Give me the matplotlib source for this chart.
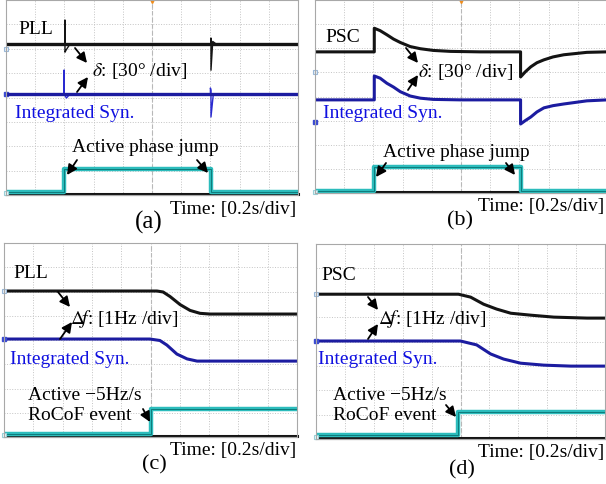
import matplotlib
matplotlib.use("Agg")
import matplotlib.pyplot as plt
from matplotlib.patches import FancyArrowPatch

plt.rcParams['font.family'] = ['Liberation Serif', 'DejaVu Serif']
plt.rcParams['mathtext.fontset'] = 'stix'

W, H = 606, 484

# traces in oscilloscope divisions (x: 0..10 div, y: 0..8 div)
# (a) phase jump, PLL: flat level plus thin glitches
pll_a_level = 6.19
pll_a_t = [0, 2.02, 2.02, 2.02, 2.06, 2.19, 7.02, 7.02, 7.02, 7.08, 7.2, 10]
pll_a_v = [6.19, 6.19, 7.17, 5.86, 5.95, 6.19, 6.19, 6.43, 5.12, 6.3, 6.19, 6.19]
syn_a_level = 4.14
syn_a_t = [0, 1.99, 1.99, 1.99, 2.07, 2.19, 7.0, 7.0, 7.02, 7.02, 7.1, 10]
syn_a_v = [4.14, 4.14, 5.12, 4.14, 3.98, 4.14, 4.14, 4.39, 4.3, 3.2, 4.14, 4.14]
evt_a_t = [0, 1.99, 1.99, 7.02, 7.02, 10]
evt_a_v = [0.12, 0.12, 1.07, 1.07, 0.12, 0.12]

# (b) phase jump, PSC
psc_b_t = [0, 2.03, 2.03, 2.23, 2.46, 2.69, 2.92, 3.26, 3.61, 4.05, 4.64, 5.67,
           7.04, 7.04, 7.2, 7.39, 7.6, 7.84, 8.15, 8.52, 9.31, 10]
psc_b_v = [5.85, 5.85, 6.83, 6.73, 6.56, 6.38, 6.24, 6.07, 5.98, 5.91, 5.87, 5.85,
           5.85, 4.81, 5.02, 5.23, 5.40, 5.52, 5.64, 5.73, 5.83, 5.85]
syn_b_t = [0, 2.03, 2.03, 2.23, 2.46, 2.69, 2.92, 3.26, 3.61, 4.05, 5.0,
           7.04, 7.04, 7.2, 7.39, 7.6, 7.84, 8.15, 8.52, 9.31, 10]
syn_b_v = [3.86, 3.86, 4.85, 4.76, 4.55, 4.39, 4.20, 4.02, 3.93, 3.88, 3.86,
           3.86, 2.86, 3.0, 3.15, 3.36, 3.53, 3.62, 3.69, 3.82, 3.86]
evt_b_t = [0, 2.03, 2.03, 7.04, 7.04, 10]
evt_b_v = [0.08, 0.08, 1.08, 1.08, 0.08, 0.08]

# (c) RoCoF, PLL
pll_c_t = [0, 5.22, 5.43, 5.67, 6.01, 6.35, 6.69, 7.03, 10]
pll_c_v = [6.02, 6.02, 5.98, 5.79, 5.46, 5.22, 5.10, 5.07, 5.07]
syn_c_t = [0, 4.98, 5.32, 5.56, 5.90, 6.25, 6.59, 10]
syn_c_v = [4.04, 4.04, 3.98, 3.79, 3.42, 3.22, 3.13, 3.13]
evt_c_t = [0, 5.02, 5.02, 10]
evt_c_v = [0.12, 0.12, 1.15, 1.15]

# (d) RoCoF, PSC
psc_d_t = [0, 4.93, 5.35, 5.80, 6.25, 6.74, 7.43, 8.23, 9.38, 10]
psc_d_v = [5.94, 5.94, 5.82, 5.53, 5.33, 5.16, 5.08, 5.00, 4.96, 4.96]
syn_d_t = [0, 5.0, 5.56, 6.04, 6.49, 7.08, 7.88, 8.82, 10]
syn_d_v = [4.02, 4.02, 3.86, 3.49, 3.28, 3.11, 3.03, 2.99, 2.99]
evt_d_t = [0, 4.93, 4.93, 10]
evt_d_v = [0.16, 0.16, 1.11, 1.11]

ground_level = 0.03

# channel reference markers on the left edge: (black ch, blue ch, cyan ch)
marks_a = [5.98, 4.14, 0.1]
marks_b = [5.0, 2.95, 0.05]
marks_c = [6.02, 4.04, 0.1]
marks_d = [5.94, 4.02, 0.1]

BLACK = '#141414'
NAVY = '#1c1ca0'
TEAL = '#2cbcbc'
TEXTBLUE = '#1010e0'

fig = plt.figure(figsize=(W / 100, H / 100), dpi=100)


def make_panel(l, t, r, b):
    ax = fig.add_axes([l / W, 1 - b / H, (r - l) / W, (b - t) / H])
    ax.set_xlim(0, 10)
    ax.set_ylim(0, 8)
    ax.set_xticks(range(11))
    ax.set_yticks(range(9))
    ax.grid(True, linestyle=':', color='#c4c4c4', lw=0.7)
    ax.axvline(5, color='#b8b8b8', lw=0.8, ls=(0, (4, 2)))
    ax.tick_params(length=0, labelbottom=False, labelleft=False)
    for s in ax.spines.values():
        s.set_color('#a8a8a8')
        s.set_linewidth(0.8)
    return ax


def draw(ax, t1, v1, t2, v2, t3, v3, marks, thin=False):
    ax.plot([0, 10], [ground_level, ground_level], color=BLACK, lw=2.2, clip_on=False)
    ax.plot(t3, v3, color=TEAL, lw=3.2)
    ax.plot(t3, v3, color='#0e7c7c', lw=0.7)
    lw = 1.0 if thin else 2.2
    ax.plot(t1, v1, color=BLACK, lw=lw)
    ax.plot(t2, v2, color='#2a2ad0' if thin else NAVY, lw=lw)
    ax.plot([0], [marks[0]], marker='s', ms=3.5, mfc='#e8f0f8', mec='#9ab8d8', mew=0.8, clip_on=False)
    ax.plot([0], [marks[1]], marker='s', ms=3.5, mfc='#3a4ad0', mec='#3a4ad0', clip_on=False)
    ax.plot([0], [marks[2]], marker='s', ms=3.5, mfc='#e8f8f8', mec='#9ad0d8', mew=0.8, clip_on=False)


ax_a = make_panel(6, 0, 298, 195)
draw(ax_a, pll_a_t, pll_a_v, syn_a_t, syn_a_v, evt_a_t, evt_a_v, marks_a, thin=True)
ax_a.plot([0, 10], [pll_a_level, pll_a_level], color=BLACK, lw=2.4)
ax_a.plot([0, 10], [syn_a_level, syn_a_level], color=NAVY, lw=2.4)
ax_b = make_panel(315, 0, 607, 193)
draw(ax_b, psc_b_t, psc_b_v, syn_b_t, syn_b_v, evt_b_t, evt_b_v, marks_b)
ax_c = make_panel(4, 243, 297, 437)
draw(ax_c, pll_c_t, pll_c_v, syn_c_t, syn_c_v, evt_c_t, evt_c_v, marks_c)
ax_d = make_panel(316, 244, 605, 439)
draw(ax_d, psc_d_t, psc_d_v, syn_d_t, syn_d_v, evt_d_t, evt_d_v, marks_d)

for ax in (ax_a, ax_b):
    ax.plot([5], [8], marker='v', color='#f08c1a', ms=4, clip_on=False)


def label(x, y, s, size=14, color='black'):
    fig.text(x / W, 1 - y / H, s, fontsize=size, color=color, ha='left', va='center')


def arrow(x0, y0, x1, y1):
    fig.add_artist(FancyArrowPatch(
        (x0, H - y0), (x1, H - y1), transform=None, shrinkA=0, shrinkB=0,
        arrowstyle='-|>', mutation_scale=15, color='black', lw=1.3))


delta_lbl = r'$\delta$: [30° /div]'
df_lbl = r'$\Delta\!f$: [1Hz /div]'
time_lbl = 'Time: [0.2s/div]'

# (a)
label(18, 30, 'PLL')
label(92, 71, delta_lbl)
label(15, 113, 'Integrated Syn.', color=TEXTBLUE)
label(72, 148, 'Active phase jump')
label(170, 209, time_lbl)
label(135, 222, '(a)', size=18)
arrow(75, 48, 87, 63)
arrow(77, 92, 88, 77)
arrow(77, 160, 67, 175)
arrow(197, 160, 208, 173)

# (b)
label(325, 38, 'PSC')
label(418, 72, delta_lbl)
label(323, 113, 'Integrated Syn.', color=TEXTBLUE)
label(383, 152, 'Active phase jump')
label(478, 207, time_lbl)
label(447, 221, '(b)', size=16)
arrow(406, 48, 418, 63)
arrow(408, 90, 418, 75)
arrow(386, 163, 376, 177)
arrow(506, 163, 515, 175)

# (c)
label(13, 274, 'PLL')
label(70, 319, df_lbl)
label(10, 359, 'Integrated Syn.', color=TEXTBLUE)
label(28, 395, 'Active \u22125Hz/s')
label(28, 416, 'RoCoF event')
label(170, 450, time_lbl)
label(142, 465, '(c)', size=16)
arrow(58, 292, 70, 307)
arrow(60, 339, 72, 322)
arrow(143, 409, 150, 422)

# (d)
label(321, 275, 'PSC')
label(378, 319, df_lbl)
label(318, 360, 'Integrated Syn.', color=TEXTBLUE)
label(333, 395, 'Active \u22125Hz/s')
label(333, 415, 'RoCoF event')
label(478, 452, time_lbl)
label(449, 470, '(d)', size=16)
arrow(368, 297, 378, 310)
arrow(368, 339, 378, 324)
arrow(446, 405, 456, 417)

fig.savefig('out.png', dpi=100)
